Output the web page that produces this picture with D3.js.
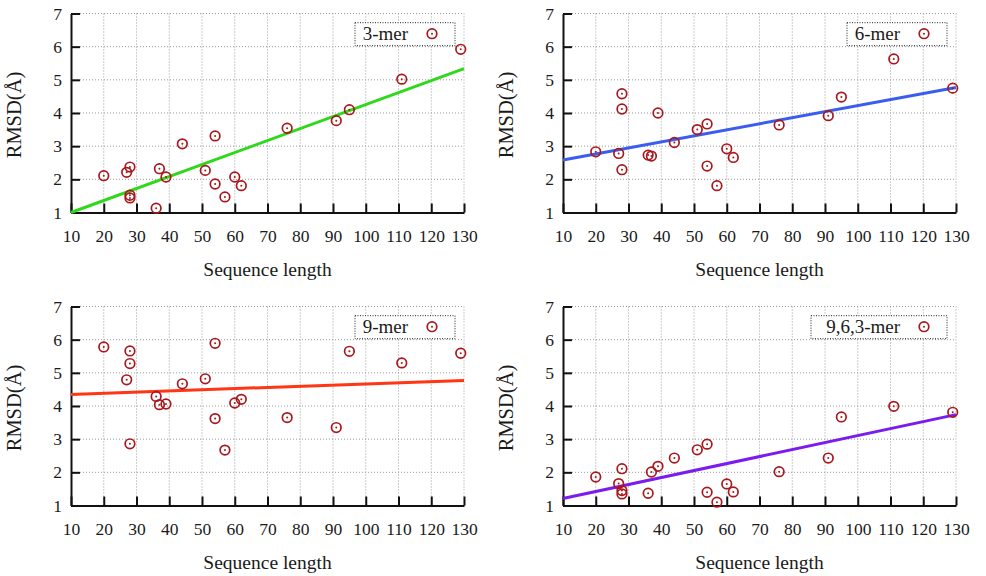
<!DOCTYPE html>
<html>
<head>
<meta charset="utf-8">
<script src="https://cdn.jsdelivr.net/npm/d3@7"></script>
<style>
  html, body { margin: 0; padding: 0; background: #fff; }
  svg { display: block; }
</style>
</head>
<body>
<svg id="chart" width="986" height="576"></svg>
<script>
// ---- data ----
const seqLength = [20, 27, 28, 28, 28, 36, 37, 39, 44, 51, 54, 54, 57, 60, 62, 76, 91, 95, 111, 129];
const rmsd3mer  = [2.11, 2.21, 2.37, 1.52, 1.44, 1.13, 2.32, 2.07, 3.07, 2.27, 3.31, 1.86, 1.47, 2.07, 1.81, 3.54, 3.77, 4.10, 5.02, 5.92];
const rmsd6mer  = [2.83, 2.78, 4.58, 4.12, 2.29, 2.73, 2.70, 4.00, 3.11, 3.50, 3.67, 2.40, 1.81, 2.92, 2.66, 3.64, 3.92, 4.48, 5.63, 4.75];
const rmsd9mer  = [5.78, 4.79, 5.66, 5.28, 2.86, 4.29, 4.04, 4.06, 4.67, 4.82, 5.89, 3.62, 2.67, 4.09, 4.20, 3.65, 3.35, 5.65, 5.30, 5.59];
const rmsd963mer= [1.86, 1.66, 2.11, 1.45, 1.35, 1.37, 2.01, 2.18, 2.43, 2.68, 2.85, 1.40, 1.10, 1.65, 1.41, 2.02, 2.43, 3.67, 3.99, 3.81];
const seriesNames = ["3-mer", "6-mer", "9-mer", "9,6,3-mer"];
const fitX      = [10, 130];
const fit3mer   = [1.00, 5.34];
const fit6mer   = [2.58, 4.77];
const fit9mer   = [4.35, 4.77];
const fit963mer = [1.21, 3.74];
const xTicks = [10, 20, 30, 40, 50, 60, 70, 80, 90, 100, 110, 120, 130];
const yTicks = [1, 2, 3, 4, 5, 6, 7];
const xTitle = "Sequence length";
const yTitle = "RMSD(Å)";

// ---- layout ----
const FONT = "Liberation Serif";
const panels = [
  { name: seriesNames[0], vals: rmsd3mer,  fit: fit3mer,   color: "#2fd81a", left: 71,  top: 13.5, legendW: 100 },
  { name: seriesNames[1], vals: rmsd6mer,  fit: fit6mer,   color: "#3a5cef", left: 563, top: 13.5, legendW: 100 },
  { name: seriesNames[2], vals: rmsd9mer,  fit: fit9mer,   color: "#ff3514", left: 71,  top: 306.5, legendW: 100 },
  { name: seriesNames[3], vals: rmsd963mer,fit: fit963mer, color: "#7a1cee", left: 563, top: 306.5, legendW: 136 }
];
const W = 393, H = 199;
const markColor = "#a8171c";

const svg = d3.select("#chart");

panels.forEach(p => {
  const g = svg.append("g").attr("transform", `translate(${p.left},${p.top})`);
  const x = d3.scaleLinear().domain([10, 130]).range([0, W]);
  const y = d3.scaleLinear().domain([1, 7]).range([H, 0]);

  // grid
  g.append("g").selectAll("line").data(xTicks.filter(t => t > 10)).join("line")
    .attr("x1", d => x(d)).attr("x2", d => x(d)).attr("y1", 0).attr("y2", H)
    .attr("stroke", "#9a9a9a").attr("stroke-width", 1).attr("stroke-dasharray", "1,2");
  g.append("g").selectAll("line").data(yTicks.filter(t => t > 1)).join("line")
    .attr("x1", 0).attr("x2", W).attr("y1", d => y(d)).attr("y2", d => y(d))
    .attr("stroke", "#9a9a9a").attr("stroke-width", 1).attr("stroke-dasharray", "1,2");

  // axes
  const xAxis = d3.axisBottom(x).tickValues(xTicks).tickFormat(d3.format("d"))
    .tickSizeInner(-9).tickSizeOuter(0).tickPadding(17.5);
  const yAxis = d3.axisLeft(y).tickValues(yTicks).tickFormat(d3.format("d"))
    .tickSizeInner(-9).tickSizeOuter(0).tickPadding(9);
  const gx = g.append("g").attr("transform", `translate(0,${H})`).call(xAxis);
  const gy = g.append("g").call(yAxis);
  [gx, gy].forEach(a => {
    a.attr("font-family", FONT).attr("font-size", 17.5);
    a.select(".domain").attr("stroke", "#111").attr("stroke-width", 2);
    a.selectAll(".tick line").attr("stroke", "#111").attr("stroke-width", 2);
    a.selectAll(".tick text").attr("fill", "#1a1a1a").attr("font-family", FONT);
  });

  // titles
  g.append("text").attr("x", W / 2).attr("y", H + 63).attr("text-anchor", "middle")
    .attr("fill", "#1a1a1a").attr("font-family", FONT).attr("font-size", 19.5).text(xTitle);
  g.append("text").attr("transform", `translate(-50,${H / 2 + 2}) rotate(-90)`)
    .attr("text-anchor", "middle").attr("fill", "#1a1a1a")
    .attr("font-family", FONT).attr("font-size", 20.5).text(yTitle);

  // fit line
  const line = d3.line().x(d => x(d[0])).y(d => y(d[1]));
  g.append("path").datum(fitX.map((v, i) => [v, p.fit[i]])).attr("d", line)
    .attr("fill", "none").attr("stroke", p.color).attr("stroke-width", 3);

  // points
  const pts = seqLength.map((v, i) => [v, p.vals[i]]);
  const pg = g.append("g");
  pg.selectAll("circle.ring").data(pts).join("circle").attr("class", "ring")
    .attr("cx", d => x(d[0])).attr("cy", d => y(d[1])).attr("r", 4.8)
    .attr("fill", "none").attr("stroke", markColor).attr("stroke-width", 1.7);
  pg.selectAll("circle.dot").data(pts).join("circle").attr("class", "dot")
    .attr("cx", d => x(d[0])).attr("cy", d => y(d[1])).attr("r", 1)
    .attr("fill", markColor);

  // legend
  const lx = W - 9 - p.legendW, ly = 9.2;
  const lg = g.append("g").attr("transform", `translate(${lx},${ly})`);
  lg.append("rect").attr("x", 0).attr("y", 0).attr("width", p.legendW).attr("height", 23)
    .attr("fill", "#fff").attr("stroke", "#222").attr("stroke-width", 1).attr("stroke-dasharray", "1,1.5");
  lg.append("text").attr("x", p.legendW - 47).attr("y", 17.5).attr("text-anchor", "end")
    .attr("fill", "#1a1a1a").attr("font-family", FONT).attr("font-size", 19).text(p.name);
  lg.append("circle").attr("cx", p.legendW - 23).attr("cy", 11).attr("r", 4.8)
    .attr("fill", "none").attr("stroke", markColor).attr("stroke-width", 1.7);
  lg.append("circle").attr("cx", p.legendW - 23).attr("cy", 11).attr("r", 1).attr("fill", markColor);
});
</script>
</body>
</html>
